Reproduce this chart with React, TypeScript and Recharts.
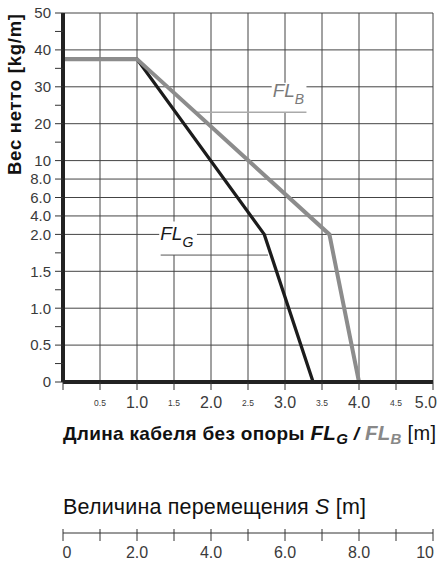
import React from "react";
import {
  LineChart,
  Line,
  XAxis,
  YAxis,
  CartesianGrid,
  ReferenceArea,
  ReferenceLine,
} from "recharts";

const FONT = '"Liberation Sans", Arial, sans-serif';

// cable length [m] -> net weight [kg/m]
const LENGTH_B = [0, 1.0, 3.6, 4.0];
const WEIGHT_B = [37.5, 37.5, 2.0, 0];
const LENGTH_G = [0, 1.0, 2.72, 3.38];
const WEIGHT_G = [37.5, 37.5, 2.0, 0];

const X_TICKS = [0, 0.5, 1, 1.5, 2, 2.5, 3, 3.5, 4, 4.5, 5];
const X_LABELS = ["", "0.5", "1.0", "1.5", "2.0", "2.5", "3.0", "3.5", "4.0", "4.5", "5.0"];

// the weight axis is made of three linear parts: 0–2, 2–10, 10–50
const Y_TICK_VALUES = [0, 0.5, 1, 1.5, 2, 4, 6, 8, 10, 20, 30, 40, 50];
const Y_TICK_LABELS = ["0", "0.5", "1.0", "1.5", "2.0", "4.0", "6.0", "8.0", "10", "20", "30", "40", "50"];
const Y_TICK_STEPS = [0, 1, 2, 3, 4, 4.5, 5, 5.5, 6, 7, 8, 9, 10];
const Y_MINOR_STEPS = [0.5, 1.5, 2.5, 3.5, 6.5, 7.5, 8.5, 9.5];

const S_TICKS = [0, 1, 2, 3, 4, 5, 6, 7, 8, 9, 10];
const S_LABELS = ["0", "", "2.0", "", "4.0", "", "6.0", "", "8.0", "", "10"];

// curve captions: box in [m] / [kg/m], leader line start
const CAPTION_B = { x1: 2.82, x2: 3.29, w1: 23.1, w2: 31.1, lead: 1.78 };
const CAPTION_G = { x1: 1.3, x2: 1.81, w1: 1.72, w2: 3.4, lead: 2.77 };

function toAxis(v: number): number {
  for (let i = 0; i < Y_TICK_VALUES.length - 1; i++) {
    const a = Y_TICK_VALUES[i];
    const b = Y_TICK_VALUES[i + 1];
    if (v <= b) {
      return Y_TICK_STEPS[i] + ((v - a) / (b - a)) * (Y_TICK_STEPS[i + 1] - Y_TICK_STEPS[i]);
    }
  }
  return Y_TICK_STEPS[Y_TICK_STEPS.length - 1];
}

const seriesB = LENGTH_B.map((len, i) => ({ len, pos: toAxis(WEIGHT_B[i]) }));
const seriesG = LENGTH_G.map((len, i) => ({ len, pos: toAxis(WEIGHT_G[i]) }));
const yTicks = [...Y_TICK_STEPS, ...Y_MINOR_STEPS].sort((a, b) => a - b);

function yLabel(p: number): string {
  const i = Y_TICK_STEPS.indexOf(p);
  return i >= 0 ? Y_TICK_LABELS[i] : "";
}

function XTick(props: any) {
  const { x, y, payload } = props;
  const i = X_TICKS.indexOf(payload.value);
  const label = i >= 0 ? X_LABELS[i] : "";
  const small = payload.value % 1 !== 0;
  const last = i === X_TICKS.length - 1;
  return (
    <text
      x={last ? x + 4 : x}
      y={y + (small ? 15.5 : 18)}
      textAnchor={last ? "end" : "middle"}
      fontFamily={FONT}
      fontSize={small ? 8.5 : 16}
      fill="#3a3a3a"
    >
      {label}
    </text>
  );
}

function STick(props: any) {
  const { x, y, payload } = props;
  const i = S_TICKS.indexOf(payload.value);
  const first = i === 0;
  const last = i === S_TICKS.length - 1;
  return (
    <g>
      <line x1={x} x2={x} y1={y - 4} y2={y + 8} stroke="#333" strokeWidth={1} />
      <text
        x={first ? x - 0.5 : last ? x + 1 : x}
        y={y + 25}
        textAnchor={first ? "start" : last ? "end" : "middle"}
        fontFamily={FONT}
        fontSize={16}
        fill="#3a3a3a"
      >
        {i >= 0 ? S_LABELS[i] : ""}
      </text>
    </g>
  );
}

function caption(sub: string, color: string) {
  return (props: any) => {
    const vb = props.viewBox;
    const base = vb.y + vb.height - 15;
    return (
      <text x={vb.x + 1} y={base} fontFamily={FONT} fontStyle="italic" fill={color}>
        <tspan fontSize={19}>FL</tspan>
        <tspan fontSize={14} dy={7}>
          {sub}
        </tspan>
      </text>
    );
  };
}

function WeightTitle() {
  return (
    <text
      x={14}
      y={94.5}
      transform="rotate(-90 14 94.5)"
      textAnchor="middle"
      dominantBaseline="central"
      fontFamily={FONT}
      fontWeight={700}
      fontSize={18.5}
      textLength={161}
      lengthAdjust="spacing"
      fill="#111"
    >
      Вес нетто [kg/m]
    </text>
  );
}

function LengthTitle() {
  return (
    <text
      x={63}
      y={440}
      fontFamily={FONT}
      fontWeight={700}
      fontSize={19}
      textLength={373}
      lengthAdjust="spacing"
      fill="#111"
    >
      {"Длина кабеля без опоры "}
      <tspan fontStyle="italic" fontSize={20.5}>
        FL
      </tspan>
      <tspan fontStyle="italic" fontSize={15} dy={4}>
        G
      </tspan>
      <tspan dy={-4} fontStyle="italic">
        {" / "}
      </tspan>
      <tspan fontStyle="italic" fill="#888" fontSize={20.5}>
        FL
      </tspan>
      <tspan fontStyle="italic" fill="#888" fontSize={15} dy={4}>
        B
      </tspan>
      <tspan dy={-4} fontSize={20} fontWeight={400}>
        {" [m]"}
      </tspan>
    </text>
  );
}

function TravelTitle(props: any) {
  const y = props.viewBox ? props.viewBox.y : 83;
  return (
    <text
      x={63}
      y={y - 19}
      fontFamily={FONT}
      fontSize={21.5}
      textLength={303}
      lengthAdjust="spacing"
      fill="#111"
    >
      {"Величина перемещения "}
      <tspan fontStyle="italic">S</tspan>
      {" [m]"}
    </text>
  );
}

export default function App() {
  return (
    <div style={{ position: "absolute", left: 0, top: 0, width: 438, height: 565, background: "#fff" }}>
      <LineChart width={438} height={452} margin={{ top: 13, right: 5, bottom: 0, left: 0 }}>
        <CartesianGrid
          horizontalValues={Y_TICK_STEPS}
          verticalValues={X_TICKS.filter((v) => v > 0)}
          stroke="#444"
          strokeWidth={1}
        />
        <XAxis
          dataKey="len"
          type="number"
          domain={[0, 5]}
          ticks={X_TICKS}
          interval={0}
          height={70}
          tickSize={8}
          tickMargin={0}
          tickLine={{ stroke: "#333", strokeWidth: 1 }}
          axisLine={{ stroke: "#222", strokeWidth: 4 }}
          tick={<XTick />}
          label={{ content: () => <LengthTitle /> }}
        />
        <YAxis
          type="number"
          domain={[0, 10]}
          ticks={yTicks}
          interval={0}
          width={63}
          tickSize={8}
          tickMargin={4}
          tickFormatter={yLabel}
          tick={{ fontSize: 15, fill: "#3a3a3a", fontFamily: FONT }}
          tickLine={{ stroke: "#333", strokeWidth: 1 }}
          axisLine={{ stroke: "#222", strokeWidth: 4 }}
          label={{ content: () => <WeightTitle /> }}
        />
        <ReferenceArea
          x1={CAPTION_B.x1}
          x2={CAPTION_B.x2}
          y1={toAxis(CAPTION_B.w1)}
          y2={toAxis(CAPTION_B.w2)}
          fill="#fff"
          fillOpacity={1}
          stroke="none"
          label={{ content: caption("B", "#7a7a7a") }}
        />
        <ReferenceLine
          segment={[
            { x: CAPTION_B.lead, y: toAxis(CAPTION_B.w1) },
            { x: CAPTION_B.x2, y: toAxis(CAPTION_B.w1) },
          ]}
          stroke="#aaa"
          strokeWidth={1.5}
        />
        <ReferenceArea
          x1={CAPTION_G.x1}
          x2={CAPTION_G.x2}
          y1={toAxis(CAPTION_G.w1)}
          y2={toAxis(CAPTION_G.w2)}
          fill="#fff"
          fillOpacity={1}
          stroke="none"
          label={{ content: caption("G", "#1a1a1a") }}
        />
        <ReferenceLine
          segment={[
            { x: CAPTION_G.x1 + 0.02, y: toAxis(CAPTION_G.w1) },
            { x: CAPTION_G.lead, y: toAxis(CAPTION_G.w1) },
          ]}
          stroke="#555"
          strokeWidth={1}
        />
        <Line
          data={seriesG}
          dataKey="pos"
          type="linear"
          stroke="#1c1c1c"
          strokeWidth={3.3}
          dot={false}
          isAnimationActive={false}
        />
        <Line
          data={seriesB}
          dataKey="pos"
          type="linear"
          stroke="#8c8c8c"
          strokeWidth={4}
          dot={false}
          isAnimationActive={false}
        />
      </LineChart>
      <LineChart
        width={438}
        height={113}
        data={S_TICKS.map((s) => ({ s, v: 0 }))}
        margin={{ top: 33, right: 5, bottom: 0, left: 63 }}
      >
        <YAxis hide domain={[0, 1]} />
        <XAxis
          dataKey="s"
          type="number"
          domain={[0, 10]}
          ticks={S_TICKS}
          interval={0}
          height={32}
          tickSize={0}
          tickMargin={0}
          tickLine={false}
          axisLine={{ stroke: "#333", strokeWidth: 1 }}
          tick={<STick />}
          label={{ content: (p: any) => <TravelTitle {...p} /> }}
        />
        <Line dataKey="v" stroke="none" dot={false} isAnimationActive={false} />
      </LineChart>
    </div>
  );
}
